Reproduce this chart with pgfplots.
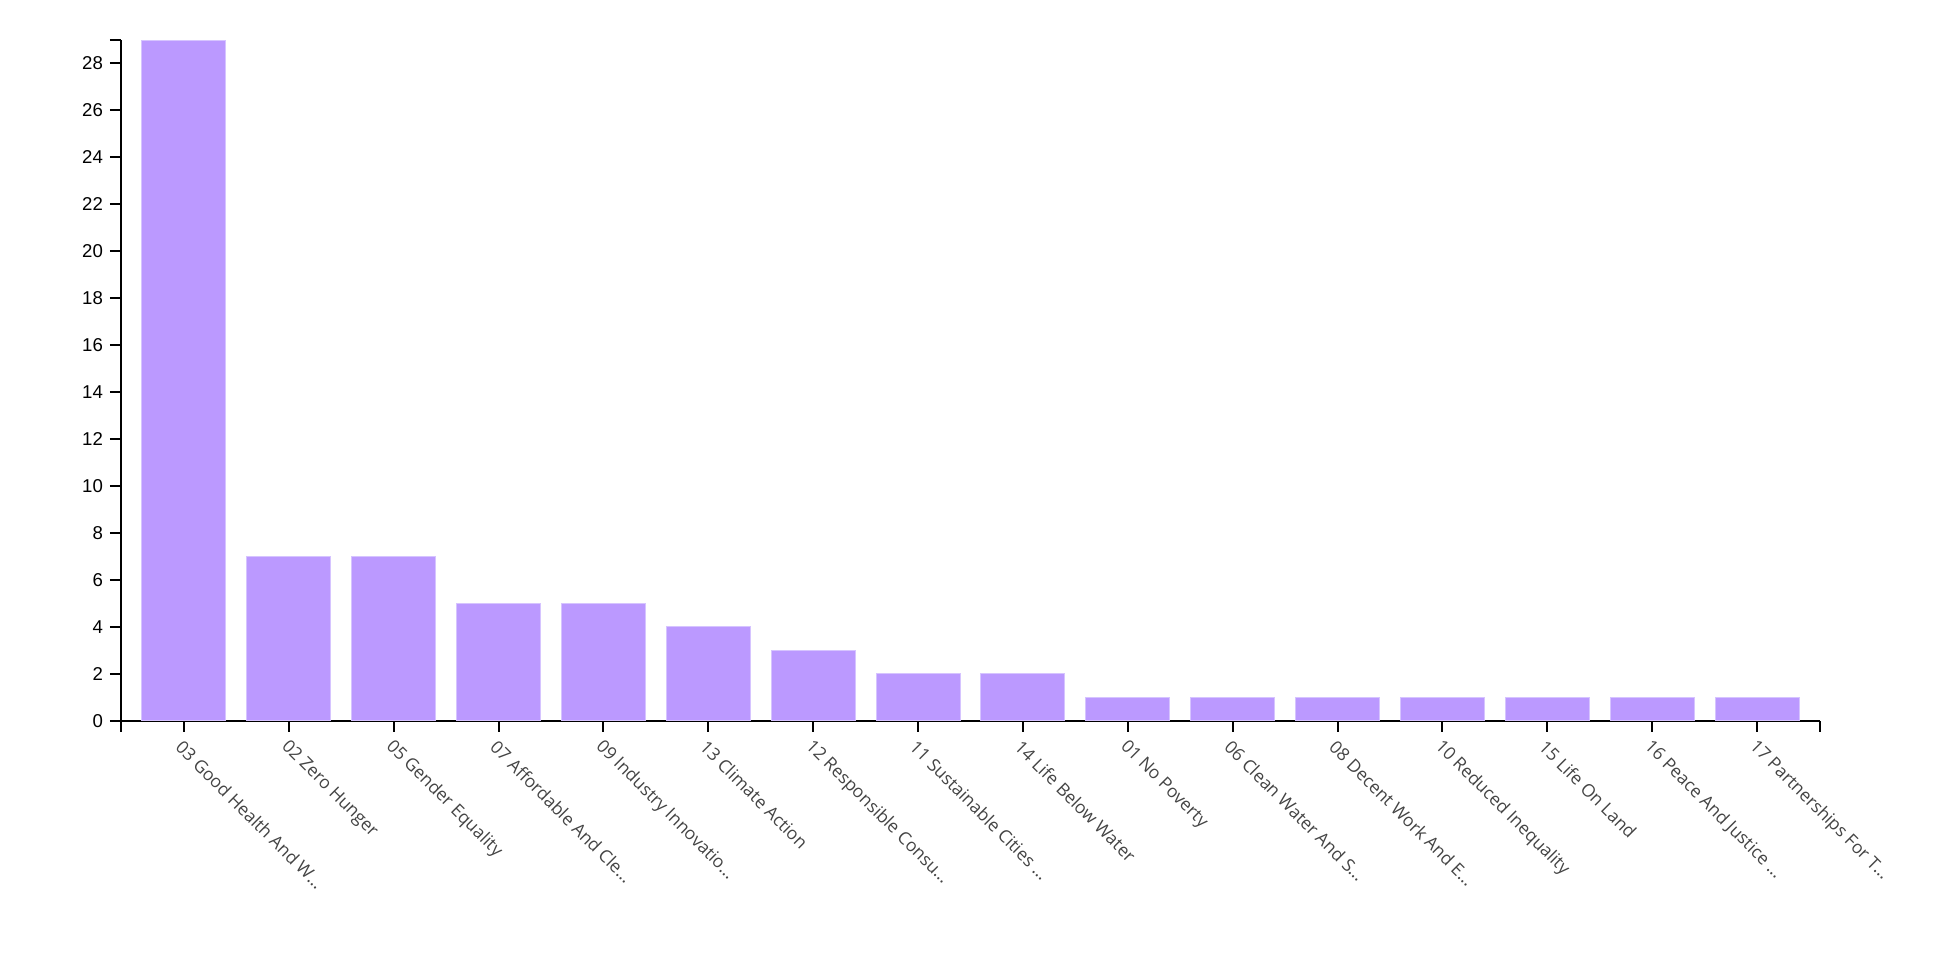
\documentclass[border=0pt]{standalone}
\usepackage{fontspec}
\setmainfont{Open Sans}
\newfontfamily\tickfont{Liberation Sans}
\usepackage{pgfplots}
\pgfplotsset{compat=1.18}
\definecolor{barcol}{RGB}{187,153,255}
\definecolor{barline}{RGB}{214,196,255}
\definecolor{lblcol}{RGB}{68,68,68}
\begin{document}
\begin{tikzpicture}
\useasboundingbox (-60.5pt,-119.65pt) rectangle (919.5pt,360.35pt);
\begin{axis}[
 at={(0,0)}, anchor=south west,
 scale only axis, width=849.5pt, height=340.35pt,
 xmin=-0.6, xmax=15.6, ymin=0, ymax=29,
 axis lines*=left, axis line style={-, line width=1pt, black},
 tick align=outside, major tick length=5.5pt,
 every tick/.style={black, line width=1pt},
 /pgf/number format/assume math mode=true,
 ytick={0,2,...,28},
 extra y ticks={29}, extra y tick labels={},
 xtick={0,...,15},
 xticklabels={03 Good Health And W…, 02 Zero Hunger, 05 Gender Equality, 07 Affordable And Cle…, 09 Industry Innovatio…, 13 Climate Action, 12 Responsible Consu…, 11 Sustainable Cities …, 14 Life Below Water, 01 No Poverty, 06 Clean Water And S…, 08 Decent Work And E…, 10 Reduced Inequality, 15 Life On Land, 16 Peace And Justice …, 17 Partnerships For T…},
 extra x ticks={-0.6,15.6}, extra x tick labels={},
 yticklabel style={font=\tickfont\fontsize{9.3}{10}\selectfont},
 xticklabel style={font=\fontsize{8.8}{10}\selectfont, text=lblcol, xshift=-2.5pt, yshift=-6pt, rotate=-45, anchor=west, inner sep=0pt},
 ybar, bar width=0.8,
]
\addplot[fill=barcol, draw=barline, line width=0.5pt] coordinates {
(0,29) (1,7) (2,7) (3,5) (4,5) (5,4) (6,3) (7,2) (8,2) (9,1) (10,1) (11,1) (12,1) (13,1) (14,1) (15,1)};
\end{axis}
\end{tikzpicture}
\end{document}
